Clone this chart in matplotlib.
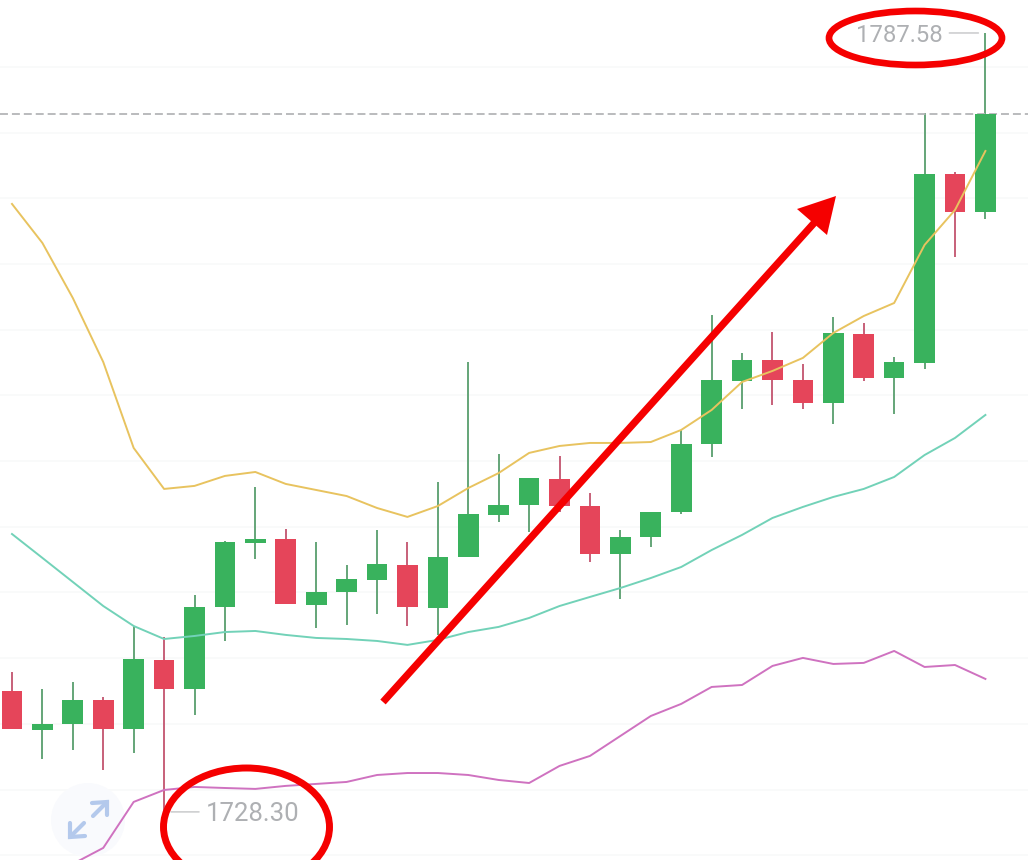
import numpy as np
import matplotlib
matplotlib.use("Agg")
import matplotlib.pyplot as plt
from matplotlib.patches import Circle, Ellipse, Polygon
from matplotlib.transforms import Affine2D

# Velas
opens = [1737.51, 1734.54, 1734.99, 1736.82, 1734.61, 1739.86, 1737.66, 1743.90, 1748.77, 1749.07, 1744.05,
         1745.04, 1745.95, 1747.09, 1743.82, 1747.70, 1750.90, 1751.66, 1753.64, 1751.58, 1747.93, 1749.22,
         1751.13, 1756.30, 1761.10, 1762.69, 1761.17, 1759.42, 1764.67, 1761.32, 1762.47, 1776.85, 1773.96]
closes = [1734.61, 1734.99, 1736.82, 1734.61, 1739.94, 1737.66, 1743.90, 1748.84, 1749.07, 1744.13, 1745.04,
          1746.03, 1747.17, 1743.90, 1747.70, 1750.97, 1751.66, 1753.71, 1751.58, 1747.93, 1749.22, 1751.13,
          1756.30, 1761.17, 1762.69, 1761.17, 1759.42, 1764.75, 1761.32, 1762.54, 1776.85, 1773.96, 1781.41]
highs = [1738.95, 1737.66, 1738.19, 1737.05, 1742.45, 1741.61, 1744.81, 1748.92, 1753.03, 1749.83, 1748.84,
         1747.09, 1749.76, 1748.84, 1753.41, 1762.54, 1755.54, 1753.71, 1755.39, 1752.57, 1749.76, 1751.13,
         1757.37, 1766.12, 1763.23, 1764.82, 1762.39, 1765.97, 1765.51, 1762.92, 1781.49, 1777.00, 1787.58]
lows = [1734.61, 1732.33, 1733.01, 1731.49, 1732.79, 1728.30, 1735.68, 1741.31, 1747.55, 1744.13, 1742.30,
        1742.53, 1743.36, 1742.45, 1741.77, 1747.70, 1750.37, 1749.60, 1751.13, 1747.32, 1744.51, 1748.46,
        1750.97, 1755.31, 1758.97, 1759.27, 1758.97, 1757.82, 1761.10, 1758.58, 1762.01, 1770.53, 1773.42]

# Bandas
upper_band = [1774.57, 1771.60, 1767.41, 1762.54, 1756.00, 1752.88, 1753.11, 1753.87, 1754.17, 1753.26, 1752.80,
              1752.34, 1751.43, 1750.75, 1751.58, 1752.95, 1754.09, 1755.62, 1756.15, 1756.38, 1756.38, 1756.45,
              1757.37, 1758.89, 1761.02, 1761.86, 1762.85, 1764.75, 1766.04, 1767.03, 1771.45, 1774.11, 1778.60]
middle_band = [1749.45, 1747.63, 1745.80, 1743.97, 1742.45, 1741.46, 1741.69, 1741.99, 1742.07, 1741.77, 1741.54,
               1741.46, 1741.31, 1741.01, 1741.39, 1741.99, 1742.38, 1743.06, 1743.97, 1744.66, 1745.34, 1746.10,
               1746.94, 1748.23, 1749.38, 1750.67, 1751.51, 1752.27, 1752.88, 1753.79, 1755.46, 1756.76, 1758.51]
lower_band = [1724.34, 1725.56, 1729.06, 1729.97, 1730.20, 1730.12, 1730.05, 1730.28, 1730.43, 1730.58, 1731.11,
              1731.26, 1731.26, 1731.11, 1730.73, 1730.50, 1731.80, 1732.56, 1734.08, 1735.60, 1736.52, 1737.81,
              1737.96, 1739.41, 1740.02, 1739.56, 1739.64, 1740.55, 1739.33, 1739.48, 1738.42]
lower_start = 2

grid_prices = [1725, 1730, 1735, 1740, 1745, 1750, 1755, 1760, 1765, 1770, 1775, 1780, 1785]

GREEN = "#39b25d"
RED = "#e5455a"
GREEN_WICK = "#5fa273"
RED_WICK = "#c55a74"
MARK = "#f50000"
LABEL = "#aeb0b3"

fig = plt.figure(figsize=(10.28, 8.6), dpi=100)
ax = fig.add_axes([0, 0, 1, 1])
ax.set_xlim(-0.394, 33.4)
ax.set_ylim(1724.64, 1790.09)
ax.axis("off")

# pixeles de pantalla con origen arriba a la izquierda, para las marcas a mano
px = Affine2D().scale(1, -1).translate(0, 860)

for g in grid_prices:
    ax.axhline(g, color="#f8f9f9", lw=1.1, zorder=1)

# boton de expandir
ax.add_patch(Circle((88, 820), 37, transform=px, facecolor="#f9fafd", edgecolor="none", zorder=1.5))
for xs, ys in [([92, 107, 107], [803, 802, 815]), ([107, 93], [802, 816]),
               ([70, 70, 85], [823, 837, 836]), ([70, 84], [837, 823])]:
    ax.plot(xs, ys, transform=px, color="#b4c9ec", lw=3, solid_capstyle="round", solid_joinstyle="miter", zorder=1.6)

x = np.arange(len(opens))
for i in x:
    up = closes[i] >= opens[i]
    ax.vlines(i, lows[i], highs[i], color=GREEN_WICK if up else RED_WICK, lw=1.35, zorder=2)
    ax.bar(i, abs(closes[i] - opens[i]), bottom=min(opens[i], closes[i]), width=0.68,
           color=GREEN if up else RED, zorder=3)

ax.plot(x, upper_band, color="#e8c35f", lw=1.4, zorder=4)
ax.plot(x, middle_band, color="#72d2b8", lw=1.4, zorder=4)
ax.plot(x[lower_start:], lower_band, color="#cf72c0", lw=1.4, zorder=4)

# precio actual
ax.axhline(closes[-1], color="#b4b5b7", lw=1.3, linestyle=(0, (4.4, 2.2)), zorder=2.5)

# maximo y minimo, con su rayita
for i, price, txt, ha, off, size in [(32, highs[32], "1787.58", "right", -31, 17.2),
                                     (5, lows[5], "1728.30", "left", 30, 18.5)]:
    ax.annotate(txt, xy=(i, price), xytext=(off, 0), textcoords="offset points", ha=ha, va="center_baseline",
                color=LABEL, fontsize=size, family="Roboto", zorder=5)
    ax.annotate("", xy=(i, price), xytext=(off * 0.84, 0), textcoords="offset points",
                arrowprops=dict(arrowstyle="-", color="#c4c5c7", lw=1, shrinkA=0, shrinkB=5))

# circulos y flecha en rojo
ax.add_patch(Ellipse((915.5, 38), 173, 54, transform=px, fill=False, edgecolor=MARK, lw=4.8, zorder=6))
ax.add_patch(Ellipse((246.5, 827), 166, 118, transform=px, fill=False, edgecolor=MARK, lw=5, zorder=6))
ax.plot([383, 815], [702, 222], transform=px, color=MARK, lw=5.2, solid_capstyle="butt", zorder=6)
ax.add_patch(Polygon([(836, 196), (797, 209), (827, 235)], closed=True, transform=px, facecolor=MARK,
                     edgecolor="none", zorder=6))

fig.savefig("out.png", dpi=100)
